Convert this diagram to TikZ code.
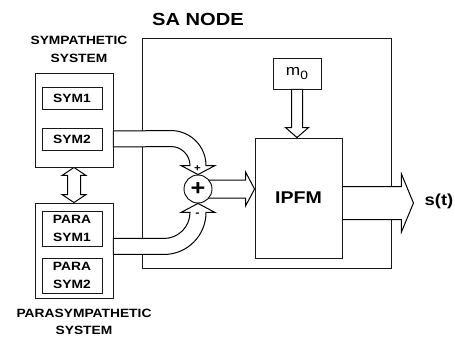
\documentclass[tikz,border=0pt]{standalone}
\usepackage{fontspec}
\setmainfont[FakeStretch=1.15]{Liberation Sans}
\usetikzlibrary{calc,backgrounds}
\begin{document}
\begin{tikzpicture}[x=1pt,y=1pt,line width=0.9pt,
  box/.style={draw=black!90,inner sep=0pt,align=center,font=\bfseries\fontsize{12}{18}\selectfont},
  hollow/.style={draw=black,line width=1pt,fill=white,line join=miter},
  lbl/.style={font=\bfseries\fontsize{12}{17.5}\selectfont,align=center,inner sep=0pt}]
\useasboundingbox (0,0) rectangle (455,-337);
% titles
\node[font=\bfseries\fontsize{17.5}{20}\selectfont,inner sep=0pt] (satitle) at (198,-19) {SA NODE};
\node[lbl] (symlbl) at (79,-49.5) {SYMPATHETIC\\SYSTEM};
\node[lbl] (paralbl) at (84,-322) {PARASYMPATHETIC\\SYSTEM};
% sympathetic
\node[box,minimum width=78pt,minimum height=94pt] (symp) at (74,-120) {};
\node[box,minimum width=60pt,minimum height=22pt] (sym1) at (72,-98) {SYM1};
\node[box,minimum width=60pt,minimum height=22pt] (sym2) at (72,-139) {SYM2};
% parasympathetic
\node[box,minimum width=78pt,minimum height=95pt] (para) at (74,-250.5) {};
\node[box,minimum width=60pt,minimum height=35pt] (psym1) at (72,-228.5) {PARA\\SYM1};
\node[box,minimum width=60pt,minimum height=35pt] (psym2) at (72,-275.5) {PARA\\SYM2};
% SA node internals
\node[box,minimum width=48pt,minimum height=31pt,font=\fontsize{15}{17}\selectfont] (m0) at (297,-73.5) {m\raisebox{-3.5pt}{\fontsize{12}{12}\selectfont 0}};
\node[box,fill=white,minimum width=87pt,minimum height=120pt,font=\bfseries\fontsize{17}{20}\selectfont] (ipfm) at (298.5,-198) {IPFM};
\node[circle,draw=black,fill=white,minimum size=28pt,inner sep=0pt,font=\bfseries\fontsize{22}{22}\selectfont] (sum) at (198,-189) {\raisebox{0.5pt}{+}};
\node[font=\bfseries\fontsize{10}{10}\selectfont,inner sep=0pt] (plus) at (197.5,-168.5) {+};
\node[font=\bfseries\fontsize{11}{11}\selectfont,inner sep=0pt] (minus) at (197.5,-215) {-};
\node[font=\bfseries\fontsize{16}{18}\selectfont,inner sep=0pt] (st) at (439,-201) {s(t)};
\coordinate (ta) at (symp.east |- sym2.center);
\coordinate (ba) at (para.east |- psym1.south);
\coordinate (tip1) at (ipfm.west |- sum.center);
\coordinate (tip2) at (m0.south |- ipfm.north);
\coordinate (oa) at ($(ipfm.east)+(0,-5)$);
\coordinate (otip) at ($(ipfm.east)+(71,-5)$);
\begin{pgfonlayer}{background}
\node[draw=black!90,minimum width=249pt,minimum height=230pt,inner sep=0pt] (sa) at (266.5,-153) {};
% top curved arrow (SYM2 -> sum)
\draw[hollow] ($(ta)+(0,8)$) -- ($(sum.north)+(-27,44)$)
  arc[start angle=90,end angle=0,radius=35pt] -- ++(9,0) -- (sum.north)
  -- ++(-17,9) -- ++(9,0) arc[start angle=0,end angle=90,radius=19pt]
  -- ($(ta)+(0,-8)$) -- cycle;
% bottom curved arrow (PARA SYM1 -> sum)
\draw[hollow] ($(ba)+(0,-8)$) -- ($(sum.south)+(-34,-51)$)
  arc[start angle=-90,end angle=0,radius=42pt] -- ++(9,0) -- (sum.south)
  -- ++(-17,-9) -- ++(9,0) arc[start angle=0,end angle=-90,radius=26pt]
  -- ($(ba)+(0,8)$) -- cycle;
% sum -> IPFM
\draw[hollow] ($(sum.center)+(10,9)$) -- ($(tip1)+(-9,9)$) -- ++(0,8) -- (tip1)
  -- ++(-9,-17) -- ++(0,8) -- ($(sum.center)+(10,-9)$) -- cycle;
% m0 -> IPFM
\draw[hollow] ($(m0.south)+(-5.5,0)$) -- ($(tip2)+(-5.5,10)$) -- ++(-6,0) -- (tip2)
  -- ++(11.5,10) -- ++(-6,0) -- ($(m0.south)+(5.5,0)$) -- cycle;
% IPFM -> s(t)
\draw[hollow] ($(oa)+(0,16.5)$) -- ($(otip)+(-12,16.5)$) -- ++(0,12.5) -- (otip)
  -- ++(-12,-29) -- ++(0,12.5) -- ($(oa)+(0,-16.5)$) -- cycle;
% double arrow symp <-> para
\draw[hollow] (symp.south) -- ++(12,-8) -- ++(-5.5,0) -- ($(para.north)+(6.5,8)$)
  -- ++(5.5,0) -- (para.north) -- ++(-12,8) -- ++(5.5,0)
  -- ($(symp.south)+(-6.5,-8)$) -- ++(-5.5,0) -- cycle;
\end{pgfonlayer}
\end{tikzpicture}
\end{document}
